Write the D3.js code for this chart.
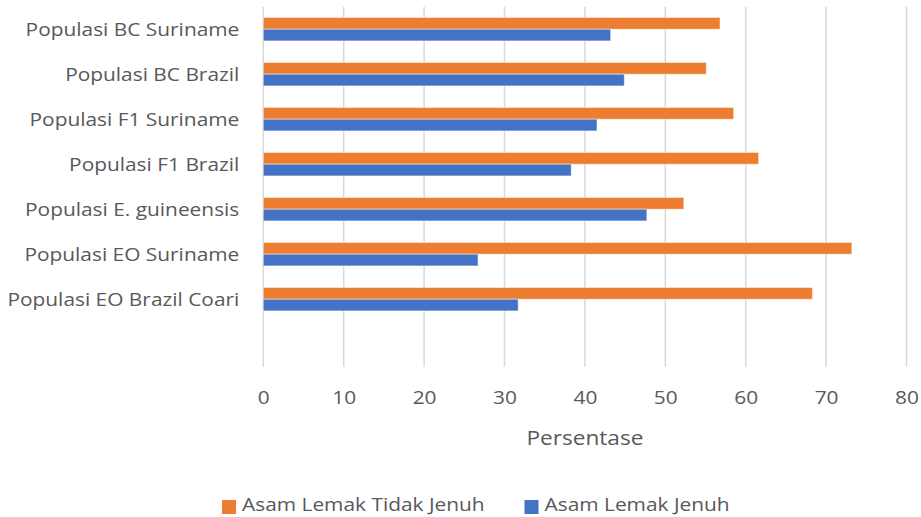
<!DOCTYPE html>
<html>
<head>
<meta charset="utf-8">
<script src="https://cdn.jsdelivr.net/npm/d3@7/dist/d3.min.js"></script>
<style>
  html, body { margin: 0; padding: 0; background: #fff; }
  text { font-family: "Open Sans", sans-serif; fill: #595959; }
</style>
</head>
<body>
<svg id="chart" width="921" height="517"></svg>
<script>
// Fatty acid composition per population (%)
const categories = [
  "Populasi BC Suriname",
  "Populasi BC Brazil",
  "Populasi F1 Suriname",
  "Populasi F1 Brazil",
  "Populasi E. guineensis",
  "Populasi EO Suriname",
  "Populasi EO Brazil Coari"
];
const unsaturated = [56.8, 55.1, 58.5, 61.6, 52.3, 73.2, 68.3]; // Asam Lemak Tidak Jenuh
const saturated   = [43.2, 44.9, 41.5, 38.3, 47.7, 26.7, 31.7]; // Asam Lemak Jenuh
const xTicks = [0, 10, 20, 30, 40, 50, 60, 70, 80];
const seriesNames = ["Asam Lemak Tidak Jenuh", "Asam Lemak Jenuh"];
const seriesColors = ["#ED7D31", "#4472C4"];
const axisTitle = "Persentase";

const svg = d3.select("#chart");
const plot = { left: 263.3, right: 906.5, top: 6.7, bottom: 366.7 };
const FONT = "'Open Sans', sans-serif";
const WIDE = 1.16; // horizontal stretch applied to all labels

const x = d3.scaleLinear().domain([0, 80]).range([plot.left, plot.right]);
// one trailing empty slot keeps the blank row under the last population
const y = d3.scaleBand()
  .domain(categories.concat([" "]))
  .range([plot.top, plot.bottom])
  .paddingInner(0.48).paddingOuter(0.24);
const inner = d3.scaleBand().domain([0, 1]).range([0, y.bandwidth()]);

// vertical gridlines
svg.append("g")
  .selectAll("line")
  .data(xTicks)
  .join("line")
  .attr("x1", d => x(d)).attr("x2", d => x(d))
  .attr("y1", plot.top).attr("y2", plot.bottom)
  .attr("stroke", "#d9d9d9").attr("stroke-width", 1.5);

// bars
const rows = categories.map((c, i) => ({ c, vals: [unsaturated[i], saturated[i]] }));
const groups = svg.append("g").selectAll("g")
  .data(rows).join("g")
  .attr("transform", d => `translate(0,${y(d.c)})`);
groups.selectAll("rect")
  .data(d => d.vals.map((v, k) => ({ v, k })))
  .join("rect")
  .attr("x", x(0))
  .attr("y", d => inner(d.k))
  .attr("width", d => x(d.v) - x(0))
  .attr("height", inner.bandwidth())
  .attr("fill", d => seriesColors[d.k])
  .attr("stroke", "#ffffff").attr("stroke-opacity", 0.45).attr("stroke-width", 1);

// x axis labels
const xAxis = d3.axisBottom(x).tickValues(xTicks).tickSize(0).tickPadding(0);
const gx = svg.append("g").attr("transform", `translate(0,${plot.bottom})`).call(xAxis);
gx.select(".domain").remove();
gx.selectAll("text")
  .attr("y", 31).attr("dy", "0.35em")
  .attr("transform", `scale(${WIDE},1)`)
  .style("font-size", "18px").style("font-family", FONT).attr("fill", "#595959");

// y axis labels
const yAxis = d3.axisLeft(y).tickValues(categories).tickSize(0).tickPadding(24);
const gy = svg.append("g").attr("transform", `translate(${plot.left},0)`).call(yAxis);
gy.select(".domain").remove();
gy.selectAll("text")
  .attr("x", -24 / WIDE)
  .attr("dy", "0.35em")
  .attr("transform", `scale(${WIDE},1)`)
  .style("font-size", "18px").style("font-family", FONT).attr("fill", "#595959");

// axis title
svg.append("g")
  .attr("transform", `translate(${(plot.left + plot.right) / 2},438) scale(${WIDE},1)`)
  .append("text")
  .attr("text-anchor", "middle").attr("dy", "0.35em")
  .style("font-size", "19.5px")
  .text(axisTitle);

// legend
const legendX = [222, 524.5];
const legend = svg.append("g").selectAll("g")
  .data(seriesNames).join("g")
  .attr("transform", (d, i) => `translate(${legendX[i]},506)`);
legend.append("rect")
  .attr("x", 0).attr("y", -6).attr("width", 14).attr("height", 14)
  .attr("fill", (d, i) => seriesColors[i]);
legend.append("g")
  .attr("transform", `translate(20,0) scale(${WIDE},1)`)
  .append("text")
  .attr("dy", "0.3em")
  .style("font-size", "18px")
  .text(d => d);
</script>
</body>
</html>
